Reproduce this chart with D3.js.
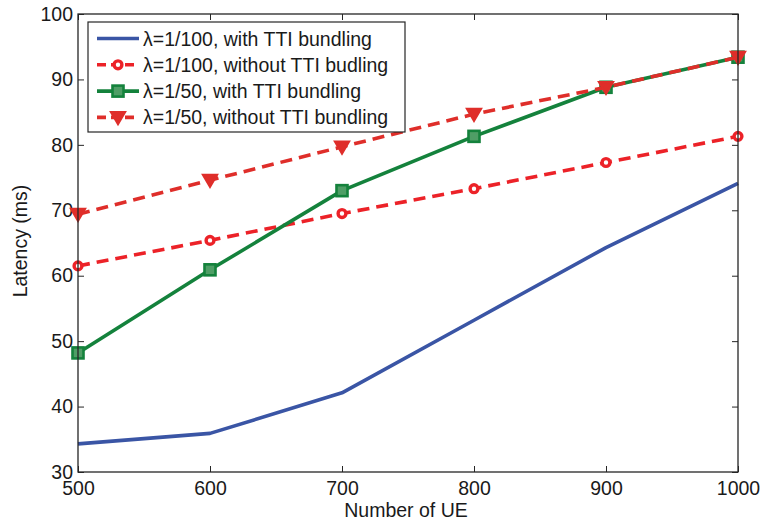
<!DOCTYPE html>
<html>
<head>
<meta charset="utf-8">
<script src="https://cdn.jsdelivr.net/npm/d3@7"></script>
<style>
  html, body { margin: 0; padding: 0; background: #fff; }
  svg { display: block; font-family: "Liberation Sans", Arial, Helvetica, sans-serif; }
</style>
</head>
<body>
<svg id="chart" width="763" height="524"></svg>
<script>
// Number of UEs on the x axis
const ueCounts = [500, 600, 700, 800, 900, 1000];

// Latency (ms) per scenario
const lat100With    = [34.3, 35.9, 42.1, 53.2, 64.3, 74.1];
const lat100Without = [61.5, 65.4, 69.5, 73.3, 77.3, 81.3];
const lat50With     = [48.2, 60.9, 73.0, 81.3, 88.8, 93.4];
const lat50Without  = [69.4, 74.6, 79.7, 84.7, 88.8, 93.4];

const seriesNames = [
  "\u03bb=1/100, with TTI bundling",
  "\u03bb=1/100, without TTI budling",
  "\u03bb=1/50, with TTI bundling",
  "\u03bb=1/50, without TTI bundling"
];

const xTicks = [500, 600, 700, 800, 900, 1000];
const yTicks = [30, 40, 50, 60, 70, 80, 90, 100];

const series = [
  { name: seriesNames[0], values: lat100With,    color: "#3a55a5", dash: null,   marker: null },
  { name: seriesNames[1], values: lat100Without, color: "#ec2228", dash: "12,7", marker: "circle" },
  { name: seriesNames[2], values: lat50With,     color: "#14823c", dash: null,   marker: "square" },
  { name: seriesNames[3], values: lat50Without,  color: "#df2e2a", dash: "12,7", marker: "triangle" }
];

const svg = d3.select("#chart");
const m = { left: 78, right: 738, top: 14, bottom: 472 };

const x = d3.scaleLinear().domain([500, 1000]).range([m.left, m.right]);
const y = d3.scaleLinear().domain([30, 100]).range([m.bottom, m.top]);

// Axes with inward ticks on all four sides
const tickLen = 6;
const axisColor = "#262626";
const fontFamily = "'Liberation Sans', Arial, sans-serif";

const bottomAxis = d3.axisBottom(x).tickValues(xTicks).tickFormat(d3.format("d"))
  .tickSizeInner(-tickLen).tickSizeOuter(0).tickPadding(9);
const leftAxis = d3.axisLeft(y).tickValues(yTicks).tickFormat(d3.format("d"))
  .tickSizeInner(-tickLen).tickSizeOuter(0).tickPadding(5);
const topAxis = d3.axisTop(x).tickValues(xTicks).tickSizeInner(-tickLen).tickSizeOuter(0).tickFormat("");
const rightAxis = d3.axisRight(y).tickValues(yTicks).tickSizeInner(-tickLen).tickSizeOuter(0).tickFormat("");

function styleAxis(g) {
  g.attr("font-size", 19.5).attr("font-family", fontFamily);
  g.select(".domain").remove();
  g.selectAll(".tick line").attr("stroke", axisColor).attr("stroke-width", 1);
  g.selectAll(".tick text").attr("fill", "#1a1a1a");
}

svg.append("g").attr("transform", `translate(0,${m.bottom})`).call(bottomAxis).call(styleAxis);
svg.append("g").attr("transform", `translate(${m.left},0)`).call(leftAxis).call(styleAxis);
svg.append("g").attr("transform", `translate(0,${m.top})`).call(topAxis).call(styleAxis);
svg.append("g").attr("transform", `translate(${m.right},0)`).call(rightAxis).call(styleAxis);

// Series lines
const line = d3.line().x((d, i) => x(ueCounts[i])).y(d => y(d));

function drawMarker(g, type, cx, cy, color) {
  if (type === "circle") {
    g.append("circle").attr("cx", cx).attr("cy", cy).attr("r", 3.9)
      .attr("fill", "#fff").attr("stroke", color).attr("stroke-width", 3.4);
  } else if (type === "square") {
    g.append("rect").attr("x", cx - 5.5).attr("y", cy - 5.5).attr("width", 11).attr("height", 11)
      .attr("fill", "#4f9e66").attr("stroke", color).attr("stroke-width", 2.6);
  } else if (type === "triangle") {
    const s = 7;
    g.append("path")
      .attr("d", `M${cx - s},${cy - s * 0.75} L${cx + s},${cy - s * 0.75} L${cx},${cy + s * 0.95} Z`)
      .attr("fill", color).attr("stroke", color).attr("stroke-width", 2.2).attr("stroke-linejoin", "miter");
  }
}

series.forEach(s => {
  const g = svg.append("g");
  g.append("path").datum(s.values).attr("d", line)
    .attr("fill", "none").attr("stroke", s.color).attr("stroke-width", 3.6)
    .attr("stroke-dasharray", s.dash).attr("stroke-linejoin", "round");
  if (s.marker) {
    s.values.forEach((v, i) => drawMarker(g, s.marker, x(ueCounts[i]), y(v), s.color));
  }
});

// Frame
svg.append("rect").attr("x", m.left).attr("y", m.top)
  .attr("width", m.right - m.left).attr("height", m.bottom - m.top)
  .attr("fill", "none").attr("stroke", axisColor).attr("stroke-width", 1.3);

// Axis titles
svg.append("text").attr("x", 406).attr("y", 517)
  .attr("text-anchor", "middle").attr("font-size", 19.5).attr("fill", "#1a1a1a")
  .text("Number of UE");
svg.append("text").attr("transform", `translate(27,241) rotate(-90)`)
  .attr("text-anchor", "middle").attr("font-size", 19.5).attr("fill", "#1a1a1a")
  .text("Latency (ms)");

// Legend
const lg = svg.append("g");
lg.append("rect").attr("x", 88).attr("y", 22).attr("width", 317).attr("height", 110)
  .attr("fill", "#fff").attr("stroke", axisColor).attr("stroke-width", 1.2);
series.forEach((s, i) => {
  const yy = 38.5 + i * 26.3;
  lg.append("line").attr("x1", 97).attr("x2", 139).attr("y1", yy).attr("y2", yy)
    .attr("stroke", s.color).attr("stroke-width", 3.6).attr("stroke-dasharray", s.dash ? "9,5" : null);
  if (s.marker) drawMarker(lg, s.marker, 118, yy, s.color);
  lg.append("text").attr("x", 143).attr("y", yy + 7).attr("font-size", 19.5).attr("fill", "#1a1a1a")
    .text(s.name);
});
</script>
</body>
</html>
